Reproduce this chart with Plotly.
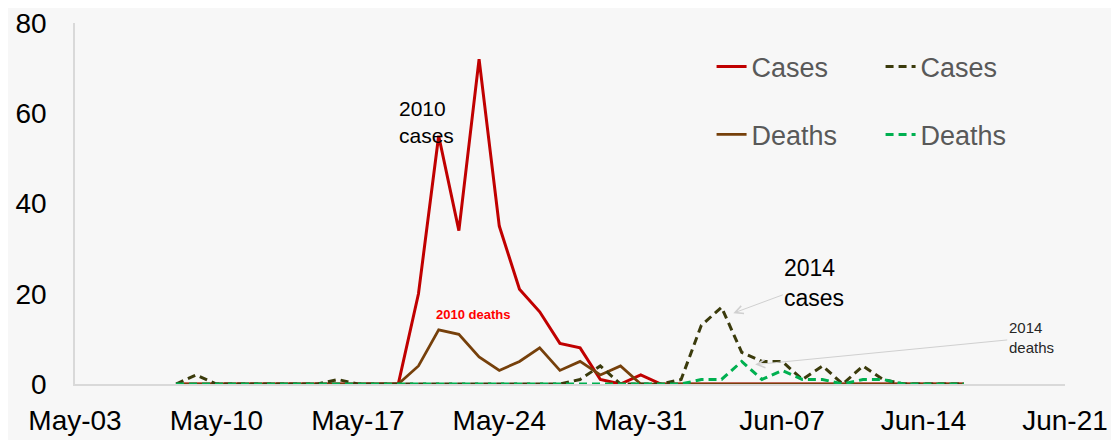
import pandas as pd
import plotly.graph_objects as go

BG = "#f7f7f7"
FONT = "Liberation Sans"

# daily counts from 8 May to 16 June
dates = pd.date_range("2014-05-08", "2014-06-16", freq="D")

cases_2010 = [0, 0, 0, 0, 0, 0, 0, 0, 0, 0, 0, 0,
              20, 55, 34, 72, 35, 21, 16, 9, 8, 1, 0, 2,
              0, 0, 0, 0, 0, 0, 0, 0, 0, 0, 0, 0, 0, 0, 0, 0]
deaths_2010 = [0, 0, 0, 0, 0, 0, 0, 0, 0, 0, 0, 0,
               4, 12, 11, 6, 3, 5, 8, 3, 5, 2, 4, 0,
               0, 0, 0, 0, 0, 0, 0, 0, 0, 0, 0, 0, 0, 0, 0, 0]
cases_2014 = [0, 2, 0, 0, 0, 0, 0, 0, 1, 0, 0, 0, 0, 0, 0, 0, 0, 0, 0, 0,
              1, 4, 0, 0, 0,
              1, 13, 17, 7, 5, 5, 1, 4, 0, 4, 1,
              0, 0, 0, 0]
deaths_2014 = [0] * 26 + [1, 1, 5, 1, 3, 1, 1, 0, 1, 1] + [0, 0, 0, 0]

week_ticks = pd.date_range("2014-05-03", "2014-06-21", freq="7D")


def make_fig():
    fig = go.Figure()

    # draw order: red under brown, dashed on top
    fig.add_trace(go.Scatter(x=dates, y=cases_2010, mode="lines", name="Cases",
                             line=dict(color="#c00000", width=3),
                             legend="legend", legendrank=1))
    fig.add_trace(go.Scatter(x=dates, y=deaths_2010, mode="lines", name="Deaths",
                             line=dict(color="#76400b", width=2.75),
                             legend="legend2", legendrank=1))
    fig.add_trace(go.Scatter(x=dates, y=cases_2014, mode="lines", name="Cases",
                             line=dict(color="#3b3b0c", width=3, dash="8px,5px"),
                             legend="legend", legendrank=2))
    fig.add_trace(go.Scatter(x=dates, y=deaths_2014, mode="lines", name="Deaths",
                             line=dict(color="#00b050", width=3, dash="8px,5px"),
                             legend="legend2", legendrank=2))

    legend_style = dict(
        orientation="h", xanchor="left", yanchor="middle",
        x=0.643, entrywidth=124, entrywidthmode="pixels",
        font=dict(family=FONT, size=27, color="#595959"),
        bgcolor="rgba(0,0,0,0)",
    )

    arrow = dict(showarrow=True, arrowhead=5, arrowsize=1.6, arrowwidth=1,
                 arrowcolor="#d0d0d0")

    # page body adds an 8px offset, so the figure is 8px smaller than the window
    fig.update_layout(
        width=1111, height=432,
        paper_bgcolor=BG, plot_bgcolor=BG,
        margin=dict(l=67, r=54, t=15, b=56),
        font=dict(family=FONT, color="#000000"),
        legend=dict(y=0.878, **legend_style),
        legend2=dict(y=0.69, **legend_style),
        xaxis=dict(
            range=["2014-05-03", "2014-06-21"],
            tickvals=week_ticks, tickformat="%b-%d",
            showgrid=False, zeroline=False,
            showline=True, linecolor="#d9d9d9", linewidth=1.5,
            tickfont=dict(size=28, color="#000000"),
            ticklabelstandoff=11, automargin=False,
            ticklabeloverflow="allow",
        ),
        yaxis=dict(
            range=[0, 80], tickvals=[0, 20, 40, 60, 80],
            showgrid=False, zeroline=False,
            showline=True, linecolor="#d9d9d9", linewidth=1.5,
            tickfont=dict(size=28, color="#000000"),
            ticklabelstandoff=21, automargin=False,
            ticklabeloverflow="allow",
        ),
        annotations=[
            dict(x="2014-05-18 22:00", y=58, text="2010<br>cases", showarrow=False,
                 xanchor="left", yanchor="middle", align="left",
                 font=dict(size=21, color="#000000")),
            dict(x="2014-05-22 17:00", y=15.5, text="<b>2010 deaths</b>", showarrow=False,
                 xanchor="center", yanchor="middle",
                 font=dict(size=13, color="#ff0000")),
            dict(x="2014-06-04 14:00", y=15.7, text="2014<br>cases", align="left",
                 ax=81, ay=-30, font=dict(size=23, color="#000000"), **arrow),
            dict(x="2014-06-05 16:00", y=4.3, text="2014<br>deaths", align="left",
                 ax=276, ay=-27, font=dict(size=15, color="#262626"), **arrow),
        ],
    )
    return fig


fig = make_fig()
fig.write_html("out.html")
